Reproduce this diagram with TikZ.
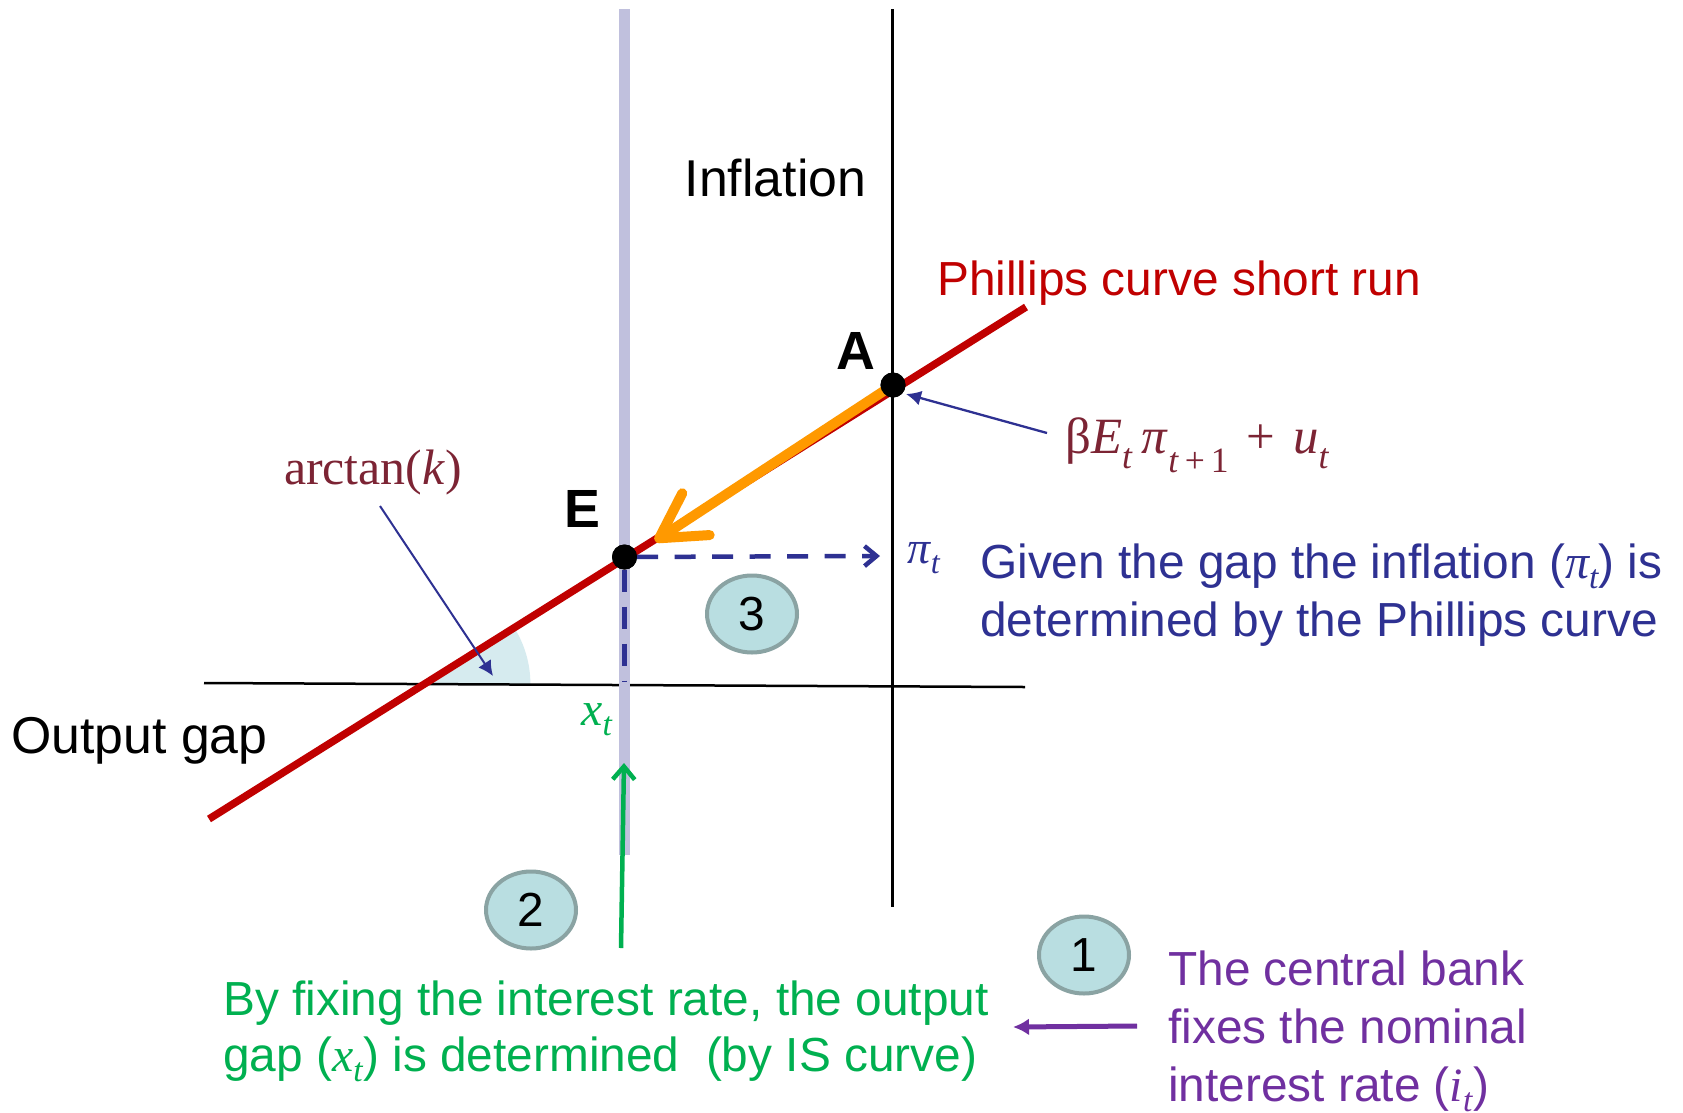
\documentclass[tikz,border=0pt]{standalone}
\usepackage[no-math]{fontspec}
\setmainfont{Liberation Sans}
\newfontfamily\timi{Liberation Serif}
\usetikzlibrary{arrows.meta,shapes.geometric}
\definecolor{navy}{RGB}{46,49,146}
\definecolor{grn}{RGB}{0,176,80}
\definecolor{purp}{RGB}{112,48,160}
\definecolor{redc}{RGB}{192,0,0}
\definecolor{orng}{RGB}{255,153,0}
\definecolor{maroonc}{RGB}{124,36,52}
\definecolor{lav}{RGB}{192,192,221}
\definecolor{cfill}{RGB}{185,222,225}
\definecolor{cbord}{RGB}{138,163,163}
\definecolor{wedgec}{RGB}{214,235,239}
\begin{document}
\begin{tikzpicture}[x=1bp,y=-1bp,
  numc/.style={ellipse, draw=cbord, fill=cfill, line width=4bp, minimum width=90bp, minimum height=77bp, inner sep=0pt, font=\fontsize{48}{48}\selectfont},
  dotn/.style={circle, fill=black, minimum size=25bp, inner sep=0pt},
  axisl/.style={black, line width=2.5bp},
  bigtxt/.style={font=\fontsize{52}{52}\selectfont, inner sep=0pt},
  midtxt/.style={font=\fontsize{48}{58}\selectfont, inner sep=0pt, align=left},
  boldtxt/.style={font=\bfseries\fontsize{54}{54}\selectfont, inner sep=0pt},
  thinarrow/.style={navy, line width=2.3bp, -{Latex[length=15bp,width=15bp]}}
]
\useasboundingbox (0,0) rectangle (1683,1112);
\fill[white] (0,0) rectangle (1683,1112);

% coordinates
\coordinate (yTop) at (892.5,9);
\coordinate (yBot) at (892.5,907);
\coordinate (xL) at (204,683);
\coordinate (xR) at (1025,687);
\coordinate (barT) at (624.5,9);
\coordinate (barB) at (624.5,855);
\coordinate (pcL) at (209,819);
\coordinate (pcR) at (1026,307);
\coordinate (cross) at (424.4,684);
\coordinate (otip) at (655,541);
\coordinate (pitip) at (880,556);
\coordinate (xfoot) at (624.5,682);
\coordinate (gs) at (621,948);
\coordinate (gt) at (624,763);
\coordinate (ps) at (1137,1026);
\coordinate (pt) at (1013,1027);
\coordinate (bs) at (1047,433);
\coordinate (bt) at (906,394);
\coordinate (as) at (380,506);
\coordinate (at) at (493,676);

% angle wedge
\fill[wedgec] (cross) -- ++(106,0) arc[start angle=0, end angle=-32.07, radius=106] -- cycle;

% axes
\draw[axisl] (yTop) -- (yBot);
\draw[axisl] (xL) -- (xR);

% IS (vertical) bar
\draw[lav, line width=11bp] (barT) -- (barB);

% Phillips curve
\draw[redc, line width=7.5bp] (pcL) -- (pcR);

% points
\node[dotn] (A) at (893,385) {};
\node[dotn] (E) at (624.5,557) {};

% orange arrow
\draw[orng, line width=10bp, line cap=round, -{Straight Barb[length=44bp,width=50bp,line cap=round,line join=round]}] (A.center) -- (otip);

% dashed navy lines
\draw[navy, line width=4.5bp, dash pattern=on 21bp off 16.5bp, -{Straight Barb[length=12bp,width=20bp]}] (E) -- (pitip);
\draw[navy, line width=4.5bp, dash pattern=on 22bp off 15bp] (E) -- (xfoot);

\node[dotn] at (A) {};
\node[dotn] at (E) {};

% green arrow
\draw[grn, line width=4.5bp, -{Straight Barb[length=13bp,width=22bp]}] (gs) -- (gt);
% purple arrow
\draw[purp, line width=5bp, -{Latex[length=16bp,width=17bp]}] (ps) -- (pt);
% thin arrows
\draw[thinarrow] (bs) -- (bt);
\draw[thinarrow, line width=2bp] (as) -- (at);

% labels
\node[bigtxt, anchor=base] (infl) at (775.5,196) {Inflation};
\node[bigtxt, anchor=base west] (og) at (11,753) {Output gap};
\node[midtxt, anchor=base west, text=redc] (pcl) at (937,295) {Phillips curve short run};
\node[boldtxt] (Al) at (856,351) {A};
\node[boldtxt] (El) at (582,509) {E};

\node[text=maroonc, font=\timi\fontsize{50}{50}\selectfont, inner sep=0pt, anchor=base] (arct) at (373,484) {arctan(\textit{k})};
\node[text=maroonc, font=\timi\fontsize{51}{51}\selectfont, inner sep=0pt, anchor=base west] (bet) at (1065,453) {β\textit{E}\raisebox{-0.08em}{\textsubscript{\textit{t}}}\,\textit{π}\raisebox{-0.08em}{\textsubscript{\textit{t}\,+\,1}}\hspace{0.35em}+\hspace{0.35em}\textit{u}\raisebox{-0.08em}{\textsubscript{\textit{t}}}};

\node[text=navy, font=\timi\itshape\fontsize{46}{46}\selectfont, inner sep=0pt] (pil) at (924,558) {π\textsubscript{t}};
\node[text=grn, font=\timi\itshape\fontsize{48}{48}\selectfont, inner sep=0pt] (xl) at (597,720) {x\textsubscript{t}};

\node[midtxt, text=navy, anchor=base west] (gtxt) at (980,636) {Given the gap the inflation ({\timi\itshape π}\textsubscript{\timi\itshape t}) is\\determined by the Phillips curve};
\node[midtxt, text=grn, anchor=base west, font=\fontsize{48}{56}\selectfont] (btxt) at (223,1071) {By fixing the interest rate, the output\\gap ({\timi\itshape x}\textsubscript{\timi\itshape t}) is determined\ \ (by IS curve)};
\node[midtxt, text=purp, anchor=base west, font=\fontsize{48}{58}\selectfont] (ttxt) at (1168,1101) {The central bank\\fixes the nominal\\interest rate ({\timi\itshape i}\textsubscript{\timi\itshape t})};

% numbered circles
\node[numc] (c3) at (752,614) {3};
\node[numc] (c2) at (531,910) {2};
\node[numc] (c1) at (1084,955) {1};
\end{tikzpicture}
\end{document}
